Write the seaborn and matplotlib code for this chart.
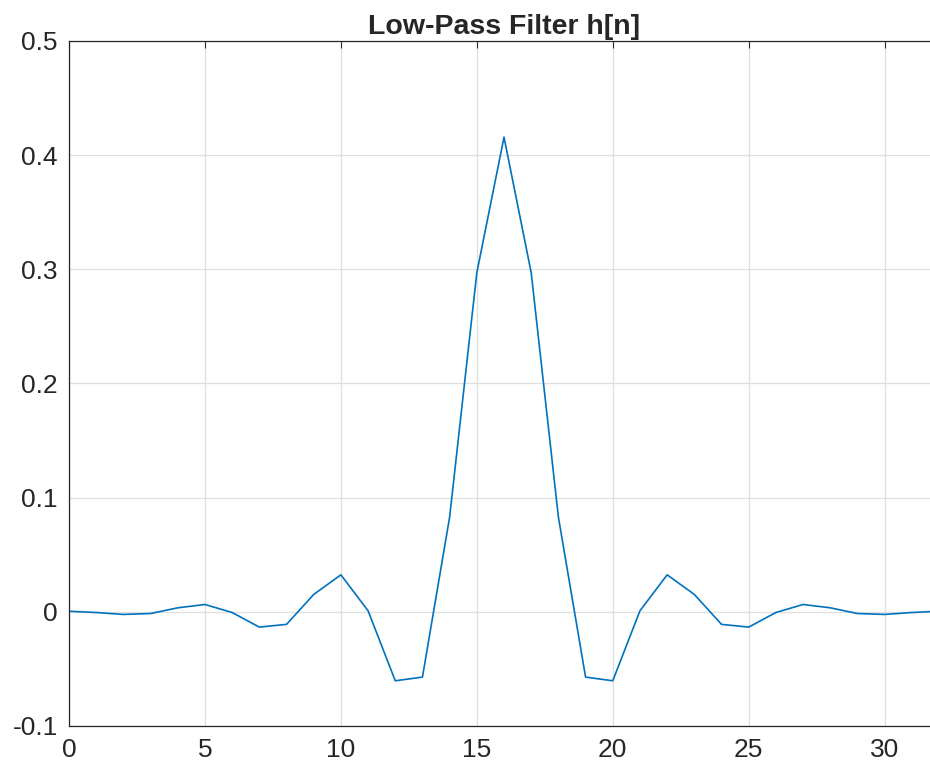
import numpy as np
import pandas as pd
import matplotlib
matplotlib.use('Agg')
import matplotlib.pyplot as plt
import seaborn as sns

# filter taps (symmetric around n = 16)
n = list(range(33))
h_half = [0.0005, -0.0006, -0.0023, -0.0015, 0.0035, 0.0064, -0.0006, -0.0134,
          -0.0110, 0.0152, 0.0324, 0.0009, -0.0604, -0.0572, 0.0830, 0.2970]
h_peak = [0.4157]
h = h_half + h_peak + h_half[::-1]

df = pd.DataFrame({'n': n, 'h': h})

sns.set_style('white')
plt.rcParams['font.family'] = ['Liberation Sans', 'DejaVu Sans']

fig = plt.figure(figsize=(9.3, 7.72), dpi=100)
ax = fig.add_axes([0.0742, 0.0596, 0.9355, 0.8874])

sns.lineplot(data=df, x='n', y='h', color='#0072BD', linewidth=1.2, ax=ax)

ax.set_xlim(0, 32)
ax.set_ylim(-0.1, 0.5)
ax.set_xticks([0, 5, 10, 15, 20, 25, 30])
ax.set_yticks([-0.1, 0, 0.1, 0.2, 0.3, 0.4, 0.5])
ax.set_yticklabels(['-0.1', '0', '0.1', '0.2', '0.3', '0.4', '0.5'])
ax.set_xlabel('')
ax.set_ylabel('')
ax.grid(True, color='#dfdfdf', linewidth=0.9)
ax.tick_params(direction='in', length=5, labelsize=19, colors='#262626',
               top=True, right=False, width=0.8)
ax.tick_params(axis='x', pad=9)
ax.tick_params(axis='y', pad=8)
for s in ax.spines.values():
    s.set_color('#262626')
    s.set_linewidth(0.9)
ax.spines['right'].set_visible(False)
ax.set_title('Low-Pass Filter h[n]', fontsize=20.5, fontweight='bold', pad=5)

fig.savefig('out.png', dpi=100)
